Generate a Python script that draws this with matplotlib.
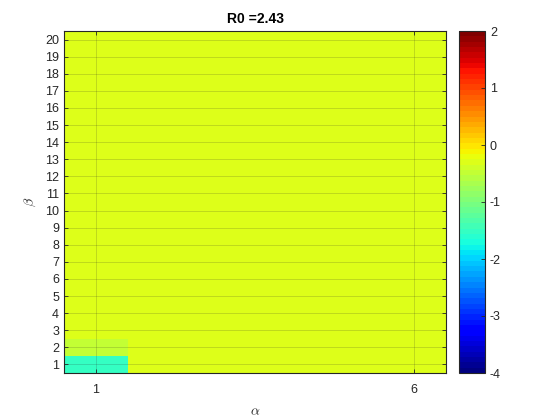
import numpy as np
import matplotlib
matplotlib.use('Agg')
import matplotlib.pyplot as plt

# data
alpha = [1, 2, 3, 4, 5, 6]
beta = list(range(1, 21))
bg = -0.31
# rows = beta 1..20, cols = alpha 1..6
Z = [
    [-1.54, bg, bg, bg, bg, bg],
    [-0.52, bg, bg, bg, bg, bg],
    [bg, bg, bg, bg, bg, bg],
    [bg, bg, bg, bg, bg, bg],
    [bg, bg, bg, bg, bg, bg],
    [bg, bg, bg, bg, bg, bg],
    [bg, bg, bg, bg, bg, bg],
    [bg, bg, bg, bg, bg, bg],
    [bg, bg, bg, bg, bg, bg],
    [bg, bg, bg, bg, bg, bg],
    [bg, bg, bg, bg, bg, bg],
    [bg, bg, bg, bg, bg, bg],
    [bg, bg, bg, bg, bg, bg],
    [bg, bg, bg, bg, bg, bg],
    [bg, bg, bg, bg, bg, bg],
    [bg, bg, bg, bg, bg, bg],
    [bg, bg, bg, bg, bg, bg],
    [bg, bg, bg, bg, bg, bg],
    [bg, bg, bg, bg, bg, bg],
    [bg, bg, bg, bg, bg, bg],
]
xticks = [1, 6]
title = 'R0 =2.43'
clim = (-4, 2)

plt.rcParams['font.family'] = ['Liberation Sans', 'DejaVu Sans']
plt.rcParams['mathtext.fontset'] = 'cm'
plt.rcParams['axes.unicode_minus'] = False
dark = '#262626'

fig = plt.figure(figsize=(5.6, 4.2), dpi=100)
ax = fig.add_axes([64/560, 47/420, 382/560, 342/420])
cax = fig.add_axes([459/560, 47/420, 26/560, 342/420])

xe = np.arange(len(alpha) + 1) + 0.5
ye = np.arange(len(beta) + 1) + 0.5
cmap = plt.get_cmap('jet', 64)
im = ax.pcolormesh(xe, ye, np.array(Z), cmap=cmap, vmin=clim[0], vmax=clim[1])

ax.set_xlim(0.5, len(alpha) + 0.5)
ax.set_ylim(0.5, len(beta) + 0.5)
ax.set_xticks(xticks)
ax.set_yticks(beta)
ax.grid(True, color='#262626', alpha=0.2, linewidth=0.6)
ax.tick_params(direction='in', top=True, right=True, colors=dark, labelsize=9,
               length=3, width=0.6)
ax.tick_params(axis='x', pad=8)
for s in ax.spines.values():
    s.set_color(dark)
    s.set_linewidth(0.8)
ax.set_title(title, fontsize=10, fontweight='bold', color='black', pad=6)
ax.set_xlabel(r'$\alpha$', fontsize=10, color=dark, labelpad=6)
ax.set_ylabel(r'$\beta$', fontsize=10, color=dark, labelpad=5)

cb = fig.colorbar(im, cax=cax, ticks=range(clim[0], clim[1] + 1))
cb.ax.tick_params(direction='in', colors=dark, labelsize=9, length=3, width=0.6)
cb.outline.set_edgecolor(dark)
cb.outline.set_linewidth(0.8)

fig.savefig('out.png', dpi=100)
